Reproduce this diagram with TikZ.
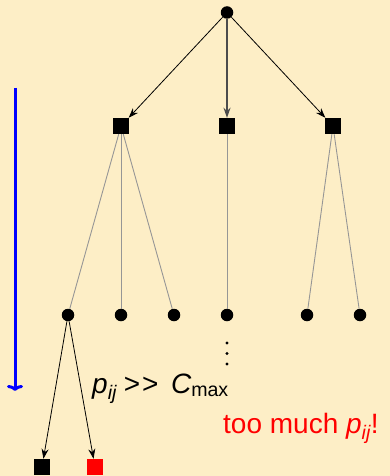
\documentclass[tikz,border=0pt]{standalone}
\usepackage{fontspec}
\setmainfont{Liberation Sans}
\usepackage{amsmath}
\usetikzlibrary{arrows.meta}
\definecolor{bg}{RGB}{253,238,198}
\definecolor{edgegray}{RGB}{150,150,150}
\begin{document}
\begin{tikzpicture}[x=1pt,y=-1pt,
  dotnode/.style={circle,fill=black,inner sep=0pt,minimum size=12.5pt},
  sqnode/.style={rectangle,fill=black,inner sep=0pt,minimum size=16pt},
  arr/.style={-{Stealth[length=10pt,width=7pt]},line width=0.8pt,black},
  gedge/.style={line width=0.9pt,edgegray},
  lbl/.style={inner sep=0pt,anchor=base west,font=\fontsize{28}{32}\selectfont}]
\fill[bg] (0,0) rectangle (390,476);
\useasboundingbox (0,0) rectangle (390,476);
% nodes
\node[dotnode] (r) at (227,12.5) {};
\node[sqnode] (s1) at (121,126) {};
\node[sqnode] (s2) at (227,126) {};
\node[sqnode] (s3) at (333,126) {};
\node[dotnode] (c1) at (68,315) {};
\node[dotnode] (c2) at (121,315) {};
\node[dotnode] (c3) at (174,315) {};
\node[dotnode] (c4) at (227,315) {};
\node[dotnode] (c5) at (307,315) {};
\node[dotnode] (c6) at (360,315) {};
\node[sqnode] (b1) at (42,467) {};
\node[sqnode,fill=red] (b2) at (95,467) {};
% edges
\draw[arr] (r) -- (s1);
\draw[arr,line width=1.4pt,black!70] (r) -- (s2);
\draw[arr] (r) -- (s3);
\draw[gedge] (s1) -- (c1);
\draw[gedge] (s1) -- (c2);
\draw[gedge] (s1) -- (c3);
\draw[gedge] (s2) -- (c4);
\draw[gedge] (s3) -- (c5);
\draw[gedge] (s3) -- (c6);
\draw[arr] (c1) -- (b1);
\draw[arr] (c1) -- (b2);
% vertical dots
\fill (227,343) circle (1.6);
\fill (227,353.5) circle (1.6);
\fill (227,364) circle (1.6);
% blue arrow
\coordinate (bt) at (15,88);
\coordinate (bb) at (15,391);
\draw[blue,line width=3pt,-{To[length=6pt,width=16pt,line width=3pt]}] (bt) -- (bb);
% labels
\node[lbl] (t1) at (92,393) {$\textit{p}_{\textit{ij}} \mathrel{\text{>\kern2pt>}} \mkern4mu \textit{C}_{\text{max}}$};
\node[lbl,text=red] (t2) at (223,433) {too much $\textit{p}_{\textit{ij}}$!};
\end{tikzpicture}
\end{document}
